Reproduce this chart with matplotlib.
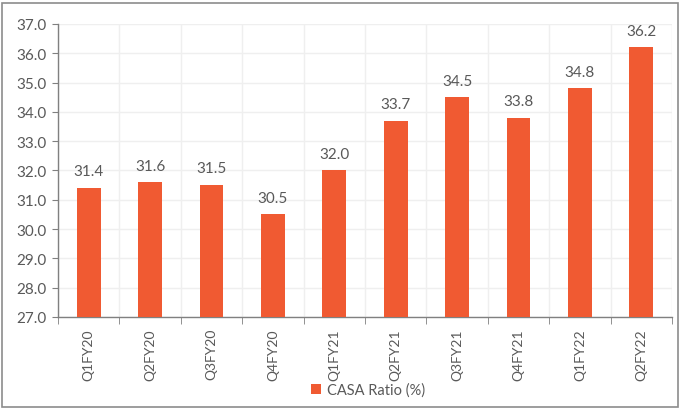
import matplotlib
matplotlib.use("Agg")
import matplotlib.pyplot as plt
from matplotlib.patches import Rectangle

plt.rcParams['font.family'] = ['Lato', 'DejaVu Sans']

quarters = ["Q1FY20", "Q2FY20", "Q3FY20", "Q4FY20", "Q1FY21",
            "Q2FY21", "Q3FY21", "Q4FY21", "Q1FY22", "Q2FY22"]
casa_ratio = [31.4, 31.6, 31.5, 30.5, 32.0, 33.7, 34.5, 33.8, 34.8, 36.2]
y_ticks = [27.0, 28.0, 29.0, 30.0, 31.0, 32.0, 33.0, 34.0, 35.0, 36.0, 37.0]

bar_color = "#F05A32"
text_color = "#595959"

fig = plt.figure(figsize=(6.8, 4.1), dpi=100)
ax = fig.add_axes([58 / 680, 1 - 318 / 410, 614 / 680, 293 / 410])

x = list(range(len(quarters)))
bars = ax.bar(x, casa_ratio, width=0.39, color=bar_color, zorder=3,
              label="CASA Ratio (%)")

for xi, v in zip(x, casa_ratio):
    ax.text(xi, v + 0.33, f"{v:.1f}", ha="center", va="bottom",
            fontsize=11, color=text_color)

ax.set_ylim(27, 37)
ax.set_xlim(-0.5, len(quarters) - 0.5)
ax.set_yticks(y_ticks)
ax.set_yticklabels([f"{t:.1f}" for t in y_ticks], fontsize=11, color=text_color)
ax.set_xticks(x)
ax.set_xticklabels(quarters, rotation=90, fontsize=10, color=text_color)

# vertical grid lines sit between categories
ax.set_xticks([i + 0.5 for i in range(-1, len(quarters))], minor=True)
ax.grid(True, which="minor", axis="x", color="#EFEFEF", lw=1, zorder=0)
ax.grid(True, which="major", axis="y", color="#EFEFEF", lw=1, zorder=0)

ax.tick_params(axis="x", which="major", length=0, pad=8)
ax.tick_params(axis="x", which="minor", length=5, color="#808080", direction="out")
ax.tick_params(axis="y", length=4, color="#808080", direction="out", pad=4)

for side in ("top", "right"):
    ax.spines[side].set_visible(False)
for side in ("left", "bottom"):
    ax.spines[side].set_color("#808080")
    ax.spines[side].set_linewidth(1)

leg = fig.legend(handles=[bars], labels=["CASA Ratio (%)"], loc="center",
                 bbox_to_anchor=(368 / 680, 1 - 391 / 410), frameon=False,
                 fontsize=10.5, handlelength=0.7, handleheight=0.7,
                 handletextpad=0.4)
for t in leg.get_texts():
    t.set_color(text_color)

fig.patches.append(Rectangle((2 / 680, 2 / 410), 676 / 680, 404 / 410,
                             transform=fig.transFigure, fill=False,
                             edgecolor="#8C8C8C", lw=1.2))

fig.savefig("out.png", dpi=100)
